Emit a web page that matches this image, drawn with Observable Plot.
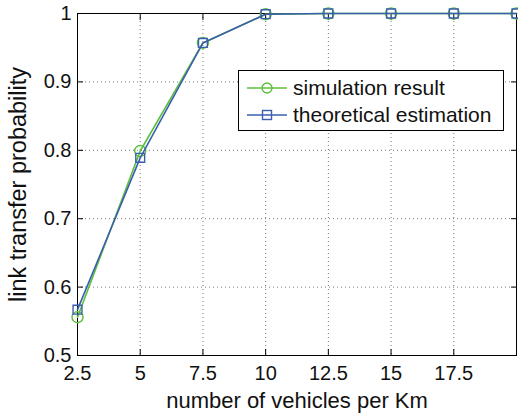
<!DOCTYPE html>
<html>
<head>
<meta charset="utf-8">
<script src="https://cdn.jsdelivr.net/npm/d3@7"></script>
<script src="https://cdn.jsdelivr.net/npm/@observablehq/plot@0.6"></script>
<style>
  html, body { margin: 0; padding: 0; background: #fff; }
  #wrap { position: relative; width: 518px; height: 417px; font-family: "Liberation Sans", Arial, sans-serif; }
  #wrap svg text { font-size: 20px; }
  #wrap svg g[aria-label="x-axis label"] text { font-size: 22px; }
  #wrap svg g[aria-label="y-axis label"] text { font-size: 23.5px; }
  #legend { position: absolute; left: 238px; top: 70px; width: 266px; height: 61px; border: 1px solid #000; background: #fff; box-sizing: border-box; }
  .row { position: absolute; left: 0; height: 26px; display: flex; align-items: center; font-size: 21px; color: #111; }
  .row svg { margin-left: 8px; margin-right: 6px; }
</style>
</head>
<body>
<div id="wrap"></div>
<script>
const vehicles = [2.5, 5, 7.5, 10, 12.5, 15, 17.5, 20];
const simulation = [0.556, 0.799, 0.957, 0.999, 1, 1, 1, 1];
const theoretical = [0.567, 0.789, 0.957, 0.999, 1, 1, 1, 1];
const xTicks = [2.5, 5, 7.5, 10, 12.5, 15, 17.5, 20];
const xTickLabels = ["2.5", "5", "7.5", "10", "12.5", "15", "17.5", ""];
const yTicks = [0.5, 0.6, 0.7, 0.8, 0.9, 1];
const yTickLabels = ["0.5", "0.6", "0.7", "0.8", "0.9", "1"];
const seriesNames = ["simulation result", "theoretical estimation"];
const colors = ["#5cbf3c", "#3b5fae"];

const sim = vehicles.map((x, i) => ({x, y: simulation[i]}));
const theo = vehicles.map((x, i) => ({x, y: theoretical[i]}));

const chart = Plot.plot({
  width: 518,
  height: 417,
  marginLeft: 77,
  marginRight: 2,
  marginTop: 13,
  marginBottom: 62,
  style: {fontFamily: "'Liberation Sans', Arial, sans-serif", fontSize: "20px", color: "#111", background: "#fff"},
  x: {domain: [2.5, 20]},
  y: {domain: [0.5, 1]},
  marks: [
    Plot.gridX(xTicks.slice(1, -1), {stroke: "#777", strokeOpacity: 1, strokeDasharray: "1,3", strokeWidth: 1}),
    Plot.gridY(yTicks.slice(1, -1), {stroke: "#777", strokeOpacity: 1, strokeDasharray: "1,3", strokeWidth: 1}),
    // inward tick marks on all four sides
    Plot.axisX(xTicks, {anchor: "bottom", tickSize: 6, dy: -6, text: null, stroke: "#000", label: null}),
    Plot.axisX(xTicks, {anchor: "top", tickSize: 6, dy: 6, text: null, stroke: "#000", label: null}),
    Plot.axisY(yTicks, {anchor: "left", tickSize: 6, dx: 6, text: null, stroke: "#000", label: null}),
    Plot.axisY(yTicks, {anchor: "right", tickSize: 6, dx: -6, text: null, stroke: "#000", label: null}),
    // tick labels and axis titles
    Plot.axisX(xTicks, {anchor: "bottom", tickSize: 0, tickPadding: 10, tickFormat: (d, i) => xTickLabels[i],
      label: "number of vehicles per Km", labelAnchor: "center", labelArrow: "none", labelOffset: 52}),
    Plot.axisY(yTicks, {anchor: "left", tickSize: 0, tickPadding: 6, tickFormat: (d, i) => yTickLabels[i],
      label: "link transfer probability", labelAnchor: "center", labelArrow: "none", labelOffset: 68}),
    Plot.frame({stroke: "#000", strokeWidth: 1}),
    Plot.line(sim, {x: "x", y: "y", stroke: colors[0], strokeWidth: 1.6}),
    Plot.dot(sim, {x: "x", y: "y", r: 5.5, stroke: colors[0], strokeWidth: 1.4, fill: "none"}),
    Plot.line(theo, {x: "x", y: "y", stroke: colors[1], strokeWidth: 1.6}),
    Plot.dot(theo, {x: "x", y: "y", symbol: "square", r: 5, stroke: colors[1], strokeWidth: 1.4, fill: "none"})
  ]
});

const wrap = document.getElementById("wrap");
wrap.appendChild(chart);

const legend = document.createElement("div");
legend.id = "legend";
const symbols = ["<circle cx='20' cy='8' r='5' fill='none' stroke='COL' stroke-width='1.4'/>",
                 "<rect x='15.5' y='3.5' width='9' height='9' fill='none' stroke='COL' stroke-width='1.4'/>"];
seriesNames.forEach((name, i) => {
  const row = document.createElement("div");
  row.className = "row";
  row.style.top = (4 + i * 27) + "px";
  row.innerHTML = `<svg width="40" height="16"><line x1="0" x2="40" y1="8" y2="8" stroke="${colors[i]}" stroke-width="1.6"/>${symbols[i].replace("COL", colors[i])}</svg><span>${name}</span>`;
  legend.appendChild(row);
});
wrap.appendChild(legend);
</script>
</body>
</html>
